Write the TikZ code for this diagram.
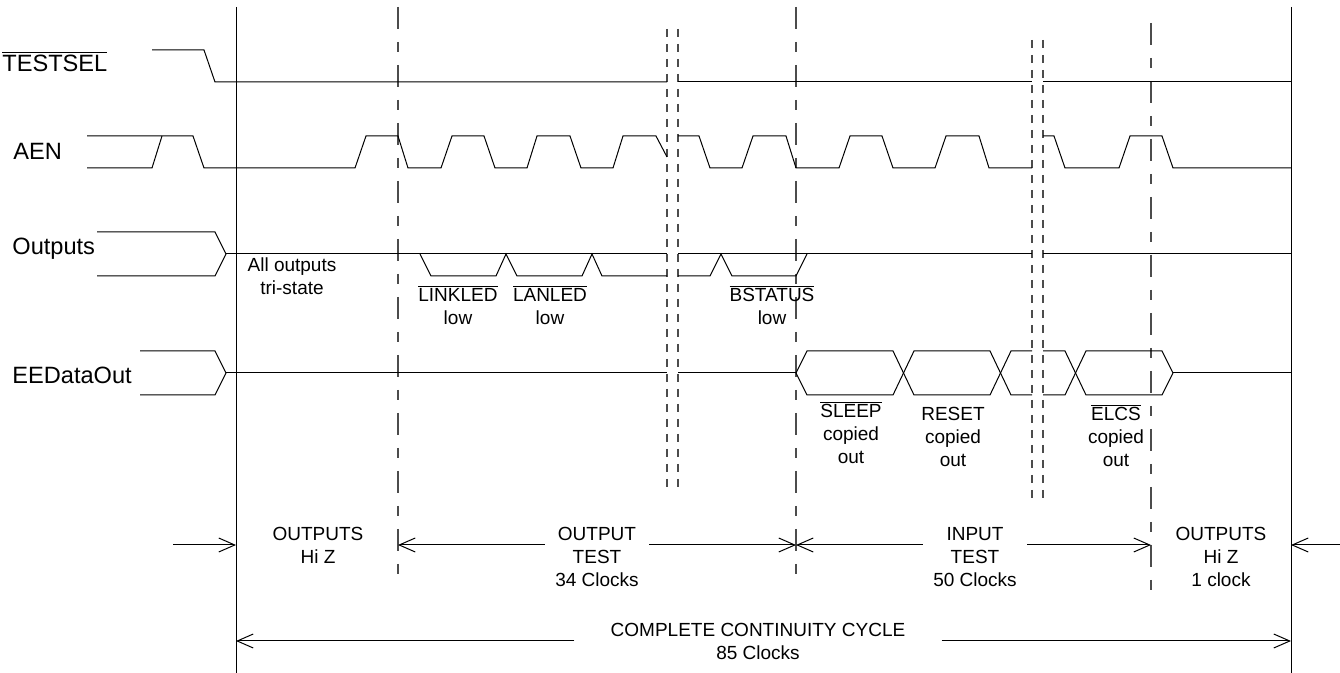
\documentclass[tikz,border=0pt]{standalone}
\usepackage{fontspec}
\setmainfont{Liberation Sans}
\usetikzlibrary{arrows.meta}
\newcommand{\ovl}[1]{$\overline{\mbox{#1}}$}
\newcommand{\stk}[1]{\begin{tabular}[t]{@{}c@{}}#1\end{tabular}}

\begin{document}
\begin{tikzpicture}[
  x=0.5pt, y=-0.5pt,
  sig/.style={line width=0.5pt, draw=black, line join=miter},
  frame/.style={line width=0.5pt, draw=black},
  phase/.style={line width=0.6pt, draw=black!70,
                dash pattern=on 11pt off 6.5pt on 5pt off 6.5pt},
  breakline/.style={line width=0.6pt, draw=black!70,
                    dash pattern=on 4pt off 3.5pt},
  dimarrow/.style={-{Straight Barb[length=8pt,width=7pt]}, line width=0.5pt},
  signame/.style={inner sep=0pt, anchor=base west,
                  font=\fontsize{11.8}{14}\selectfont},
  note/.style={inner sep=0pt, anchor=base,
               font=\fontsize{9.5}{11.5}\selectfont},
  phasetext/.style={note, inner xsep=5pt}
]
  \useasboundingbox (0,0) rectangle (1340,673);

  % signal names
  \node[signame] (testsel) at (2,72) {\ovl{TESTSEL}};
  \node[signame] (aen) at (13,160) {AEN};
  \node[signame] (outputs) at (12,255) {Outputs};
  \node[signame] (eedata) at (12,384) {EEDataOut};

  % cycle boundaries
  \draw[frame] (236,7) -- (236,673);
  \draw[frame] (1291,7) -- (1291,673);
  \draw[phase] (398,7) -- (398,583);
  \draw[phase] (796,7) -- (796,583);
  \draw[phase] (1151,23) -- (1151,598);

  % time breaks
  \draw[breakline] (667,29) -- (667,490);
  \draw[breakline] (678,29) -- (678,490);
  \draw[breakline] (1032,40) -- (1032,501);
  \draw[breakline] (1043,40) -- (1043,501);

  % TESTSEL
  \draw[sig] (152,50) -- (204,50) -- (215,82) -- (667,82);
  \draw[sig] (678,82) -- (1032,82);
  \draw[sig] (1043,82) -- (1291,82);

  % AEN
  \draw[sig] (87,168) -- (152,168) -- (162,136);
  \draw[sig] (87,136) -- (193,136) -- (204,168) -- (355,168) -- (366,136)
    -- (398,136) -- (408,168) -- (441,168) -- (452,136) -- (484,136)
    -- (495,168) -- (527,168) -- (537,136) -- (570,136) -- (581,168)
    -- (613,168) -- (623,136) -- (656,136) -- (667,157);
  \draw[sig] (678,136) -- (699,136) -- (710,168) -- (742,168) -- (753,136)
    -- (786,136) -- (796,168) -- (839,168) -- (850,136) -- (882,136)
    -- (893,168) -- (935,168) -- (946,136) -- (979,136) -- (989,168)
    -- (1032,168);
  \draw[sig] (1043,136) -- (1054,136) -- (1065,168) -- (1119,168)
    -- (1130,136) -- (1162,136) -- (1173,168) -- (1291,168);

  % Outputs
  \draw[sig] (97,232) -- (215,232) -- (226,254) -- (215,276) -- (97,276);
  \draw[sig] (226,254) -- (667,254);
  \draw[sig] (678,254) -- (1032,254);
  \draw[sig] (1043,254) -- (1291,254);
  \draw[sig] (420,254) -- (431,276) -- (496,276) -- (506,254) -- (517,276)
    -- (582,276) -- (592,254) -- (602,276) -- (667,276);
  \draw[sig] (678,276) -- (710,276) -- (721,254) -- (732,276) -- (796,276)
    -- (807,254);

  % EEDataOut
  \draw[sig] (140,351) -- (215,351) -- (226,373) -- (215,395) -- (140,395);
  \draw[sig] (226,373) -- (667,373);
  \draw[sig] (678,373) -- (796,373);
  \draw[sig] (796,373) -- (807,351) -- (893,351) -- (914,395) -- (990,395)
    -- (1011,351) -- (1032,351);
  \draw[sig] (796,373) -- (807,395) -- (893,395) -- (914,351) -- (990,351)
    -- (1011,395) -- (1032,395);
  \draw[sig] (1043,351) -- (1065,351) -- (1086,395) -- (1162,395) -- (1173,373);
  \draw[sig] (1043,395) -- (1065,395) -- (1086,351) -- (1162,351) -- (1173,373);
  \draw[sig] (1173,373) -- (1291,373);

  % state notes
  \node[note] (tristate) at (292,272) {\stk{All outputs\\tri-state}};
  \node[note] (linkled) at (458,302) {\stk{\ovl{LINKLED}\\low}};
  \node[note] (lanled) at (550,302) {\stk{\ovl{LANLED}\\low}};
  \node[note] (bstatus) at (772,302) {\stk{\ovl{BSTATUS}\\low}};
  \node[note] (sleep) at (851,418) {\stk{\ovl{SLEEP}\\copied\\out}};
  \node[note] (reset) at (953,421) {\stk{RESET\\copied\\out}};
  \node[note] (elcs) at (1116,421) {\stk{\ovl{ELCS}\\copied\\out}};

  % phases
  \coordinate (lstart) at (173,545);
  \coordinate (hizbeg) at (236,545);
  \coordinate (otbeg) at (398,545);
  \coordinate (itbeg) at (796,545);
  \coordinate (itend) at (1151,545);
  \coordinate (hizend) at (1291,545);
  \coordinate (rstart) at (1340,545);
  \coordinate (cycbeg) at (236,641);
  \coordinate (cycend) at (1291,641);

  \node[note] (hiz) at (318,541) {\stk{OUTPUTS\\Hi Z}};
  \node[phasetext] (otest) at (597,541) {\stk{OUTPUT\\TEST\\34 Clocks}};
  \node[phasetext] (itest) at (975,541) {\stk{INPUT\\TEST\\50 Clocks}};
  \node[note] (hizone) at (1221,541) {\stk{OUTPUTS\\Hi Z\\1 clock}};
  \node[note, inner xsep=18pt] (cycle) at (758,637)
    {\stk{COMPLETE CONTINUITY CYCLE\\85 Clocks}};

  \draw[dimarrow] (lstart) -- (hizbeg);
  \draw[dimarrow] (otest.west |- otbeg) -- (otbeg);
  \draw[dimarrow] (otest.east |- itbeg) -- (itbeg);
  \draw[dimarrow] (itest.west |- itbeg) -- (itbeg);
  \draw[dimarrow] (itest.east |- itend) -- (itend);
  \draw[dimarrow] (rstart) -- (hizend);
  \draw[dimarrow] (cycle.west |- cycbeg) -- (cycbeg);
  \draw[dimarrow] (cycle.east |- cycend) -- (cycend);
\end{tikzpicture}
\end{document}
